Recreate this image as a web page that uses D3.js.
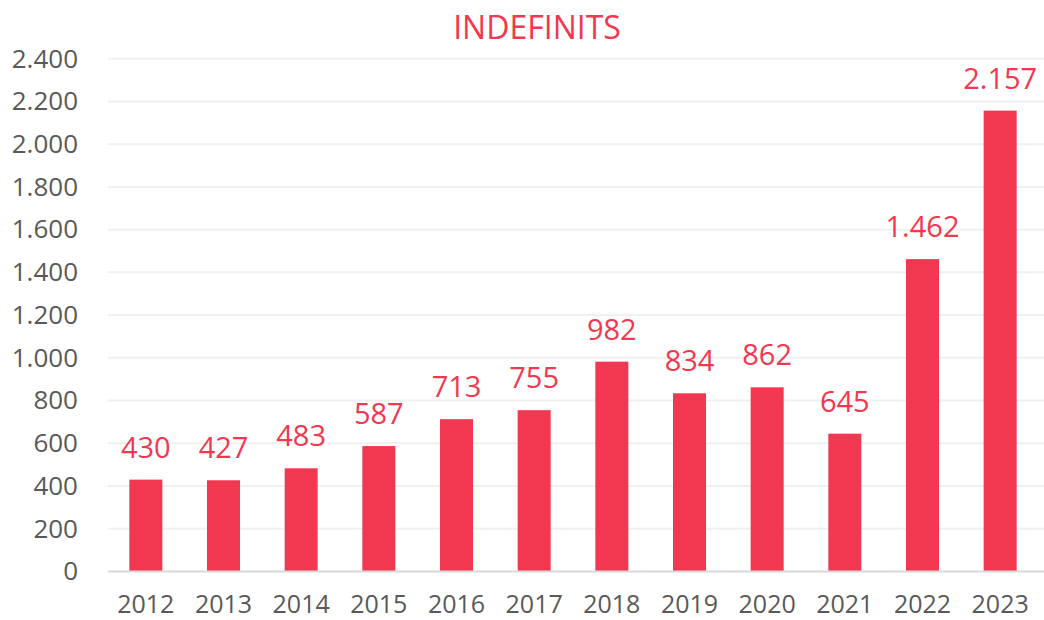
<!DOCTYPE html>
<html>
<head>
<meta charset="utf-8">
<script src="https://cdn.jsdelivr.net/npm/d3@7"></script>
<style>
body { margin: 0; background: #fff; }
text { font-family: "Open Sans", "Noto Sans", sans-serif; }
</style>
</head>
<body>
<div id="chart"></div>
<script>
let years = ["2012","2013","2014","2015","2016","2017","2018","2019","2020","2021","2022","2023"]
let values = [430, 427, 483, 587, 713, 755, 982, 834, 862, 645, 1462, 2157]
let yTicks = [0, 200, 400, 600, 800, 1000, 1200, 1400, 1600, 1800, 2000, 2200, 2400]
let title = "INDEFINITS"

let width = 1044, height = 620
let red = "#F23850"

let svg = d3.select("div#chart").append("svg")
    .attr("width", width)
    .attr("height", height)

let x = d3.scaleBand().domain(years).range([107, 1039]).paddingInner(0.575).paddingOuter(0.2875)
let y = d3.scaleLinear().domain([0, 2400]).range([571.5, 58.7])

// format with dot as thousands separator
let fmt = d3.formatLocale({decimal: ",", thousands: ".", grouping: [3], currency: ["", "€"]}).format(",d")

// gridlines
svg.append("g").selectAll("line")
    .data(yTicks.filter(d => d > 0))
    .enter().append("line")
    .attr("x1", 108).attr("x2", width)
    .attr("y1", d => y(d)).attr("y2", d => y(d))
    .style("stroke", "#F0F0F0")
    .style("stroke-width", 2)

// y axis labels
let yAxis = svg.append("g")
    .attr("transform", "translate(78,0)")
    .call(d3.axisLeft(y).tickValues(yTicks).tickFormat(fmt).tickSize(0).tickPadding(0))
yAxis.select(".domain").remove()
yAxis.selectAll("text")
    .style("font-size", "26px")
    .style("fill", "#595959")

// bars
svg.append("g").selectAll("rect")
    .data(values)
    .enter().append("rect")
    .attr("x", (d, i) => x(years[i]))
    .attr("width", x.bandwidth())
    .attr("y", d => y(d))
    .attr("height", d => y(0) - y(d))
    .style("fill", red)

// baseline
svg.append("line")
    .attr("x1", 108).attr("x2", width)
    .attr("y1", y(0)).attr("y2", y(0))
    .style("stroke", "#D9D9D9")
    .style("stroke-width", 2)

// x axis labels
let xAxis = svg.append("g")
    .attr("transform", "translate(0," + y(0) + ")")
    .call(d3.axisBottom(x).tickSize(0).tickPadding(24))
xAxis.select(".domain").remove()
xAxis.selectAll("text")
    .style("font-size", "25px")
    .style("fill", "#595959")

// data labels
svg.append("g").selectAll("text")
    .data(values)
    .enter().append("text")
    .attr("x", (d, i) => x(years[i]) + x.bandwidth() / 2)
    .attr("y", d => y(d) - 22)
    .attr("text-anchor", "middle")
    .style("font-size", "29px")
    .style("fill", red)
    .text(d => fmt(d))

// title
svg.append("text")
    .attr("x", 537)
    .attr("y", 39)
    .attr("text-anchor", "middle")
    .style("font-size", "32px")
    .style("fill", red)
    .text(title)
</script>
</body>
</html>
